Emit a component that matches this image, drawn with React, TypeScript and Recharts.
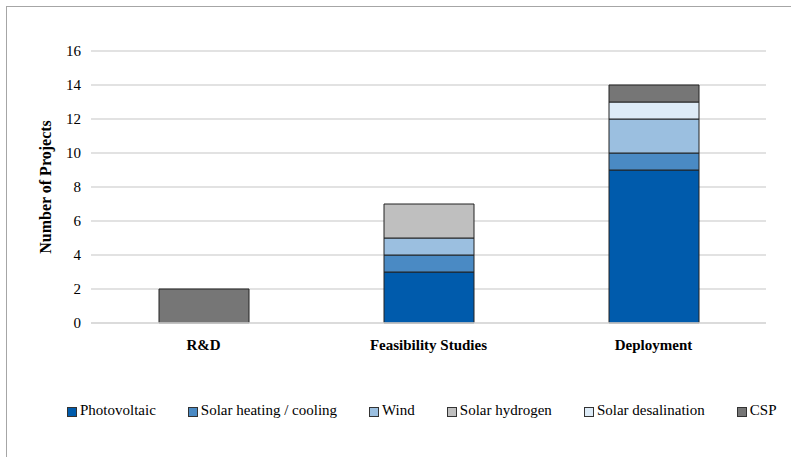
import { BarChart, Bar, XAxis, YAxis, CartesianGrid, Legend } from 'recharts';

const categories = ['R&D', 'Feasibility Studies', 'Deployment'];
const photovoltaic = [0, 3, 9];
const solarHeating = [0, 1, 1];
const wind = [0, 1, 2];
const solarHydrogen = [0, 2, 0];
const solarDesalination = [0, 0, 1];
const csp = [2, 0, 1];
const yTicks = [0, 2, 4, 6, 8, 10, 12, 14, 16];

const series = [
  { key: 'pv', name: 'Photovoltaic', values: photovoltaic, color: '#005BAC' },
  { key: 'heat', name: 'Solar heating / cooling', values: solarHeating, color: '#4A8AC4' },
  { key: 'wind', name: 'Wind', values: wind, color: '#9BBFE0' },
  { key: 'h2', name: 'Solar hydrogen', values: solarHydrogen, color: '#BFBFBF' },
  { key: 'desal', name: 'Solar desalination', values: solarDesalination, color: '#DDEBF7' },
  { key: 'csp', name: 'CSP', values: csp, color: '#767676' },
];

const data = categories.map((name, i) => {
  const row: Record<string, string | number> = { name };
  series.forEach(s => {
    row[s.key] = s.values[i];
  });
  return row;
});

const font = '"Liberation Serif", "Times New Roman", serif';

function LegendContent() {
  return (
    <div style={{ display: 'flex', justifyContent: 'flex-start', gap: 32, paddingLeft: 60, fontFamily: font, fontSize: 15, color: '#000', height: 20, alignItems: 'center', whiteSpace: 'nowrap' }}>
      {series.map(s => (
        <div key={s.key} style={{ display: 'flex', alignItems: 'center', flexShrink: 0 }}>
          <span style={{ display: 'inline-block', width: 8, height: 8, background: s.color, border: '1px solid #333', marginRight: 3, marginTop: 4 }} />
          <span>{s.name}</span>
        </div>
      ))}
    </div>
  );
}

export default function App() {
  return (
    <div style={{ position: 'absolute', left: 6, top: 6, width: 785, height: 451, borderTop: '1px solid #a6a6a6', borderLeft: '1px solid #a6a6a6', background: '#fff' }}>
      <BarChart width={784} height={450} data={data} margin={{ top: 44, right: 25, left: 0, bottom: 37 }} barSize={90}>
        <CartesianGrid vertical={false} stroke="#d9d9d9" strokeWidth={1.5} />
        <XAxis
          dataKey="name"
          height={77}
          axisLine={{ stroke: '#d9d9d9', strokeWidth: 1.5 }}
          tickLine={false}
          tick={{ fontFamily: font, fontSize: 15, fontWeight: 'bold', fill: '#000' }}
          tickMargin={10}
        />
        <YAxis
          width={84}
          domain={[0, 16]}
          ticks={yTicks}
          axisLine={false}
          tickLine={false}
          tick={{ fontFamily: font, fontSize: 15, fill: '#000' }}
          tickMargin={4}
          label={{ value: 'Number of Projects', angle: -90, position: 'insideLeft', offset: 38, style: { fontFamily: font, fontSize: 16, fontWeight: 'bold', fill: '#000', textAnchor: 'middle' } }}
        />
        <Legend content={<LegendContent />} verticalAlign="bottom" wrapperStyle={{ left: 0, width: 784 }} />
        {series.map(s => (
          <Bar key={s.key} dataKey={s.key} name={s.name} stackId="a" fill={s.color} stroke="#222" strokeWidth={1} isAnimationActive={false} />
        ))}
      </BarChart>
    </div>
  );
}
